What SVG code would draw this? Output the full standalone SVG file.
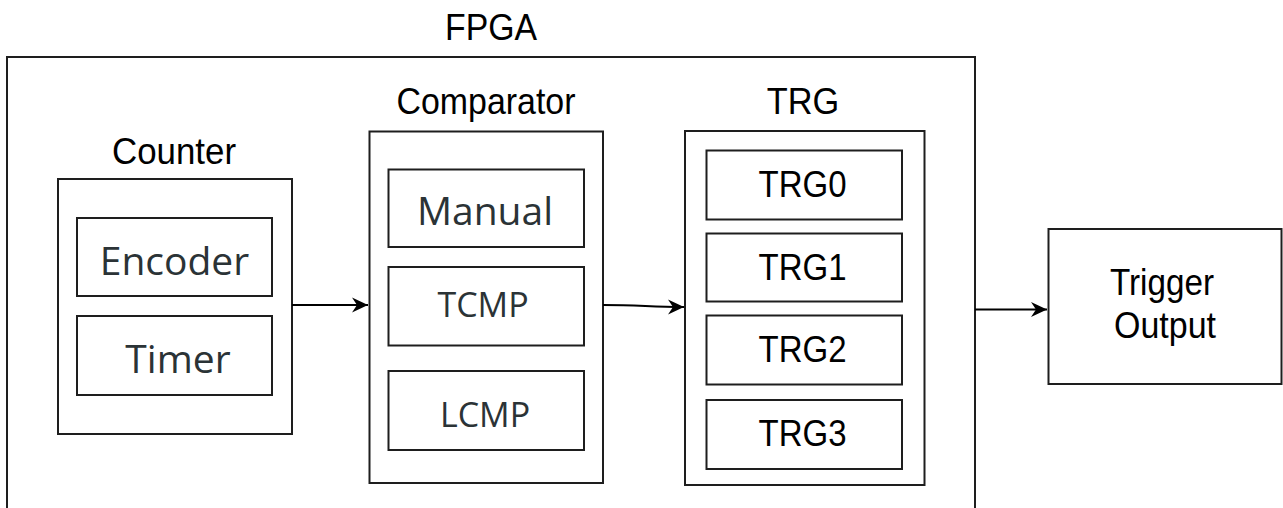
<svg xmlns="http://www.w3.org/2000/svg" width="1283" height="508" viewBox="0 0 1283 508">
<style>
.box{fill:#fff;stroke:#1e1e1e;stroke-width:2}
.lbl{font-family:"Liberation Sans",Arial,sans-serif;font-size:37px;fill:#000;text-anchor:middle}
.in{font-family:"Open Sans","Noto Sans",sans-serif;font-size:39px;fill:#2b3336;text-anchor:middle}
.sm{font-size:34px}
.con{fill:none;stroke:#000;stroke-width:2}
</style>
<defs>
<marker id="arr" markerUnits="userSpaceOnUse" markerWidth="17" markerHeight="16" refX="16" refY="8" orient="auto">
<path d="M0,0.5 L16,8 L0,15.5 L5,8 Z" fill="#000"/>
</marker>
</defs>
<rect width="1283" height="508" fill="#fff"/>
<g id="fpga">
<rect class="box" x="7" y="57" width="968" height="470"/>
<text class="lbl" x="491" y="40" textLength="92" lengthAdjust="spacingAndGlyphs">FPGA</text>
</g>
<g id="counter">
<rect class="box" x="58" y="179" width="234" height="255"/>
<text class="lbl" x="174" y="164" textLength="124" lengthAdjust="spacingAndGlyphs">Counter</text>
</g>
<g id="encoder">
<rect class="box" x="77" y="218" width="195" height="78"/>
<text class="in" x="174.5" y="275">Encoder</text>
</g>
<g id="timer">
<rect class="box" x="77" y="316" width="195" height="79"/>
<text class="in" x="178" y="373">Timer</text>
</g>
<g id="comparator">
<rect class="box" x="369.5" y="131.5" width="233.5" height="351.5"/>
<text class="lbl" x="486" y="114" textLength="179" lengthAdjust="spacingAndGlyphs">Comparator</text>
</g>
<g id="manual">
<rect class="box" x="388.5" y="169.5" width="195.5" height="77.5"/>
<text class="in" x="485" y="225">Manual</text>
</g>
<g id="tcmp">
<rect class="box" x="388.5" y="267" width="195.5" height="78.5"/>
<text class="in sm" x="483" y="317">TCMP</text>
</g>
<g id="lcmp">
<rect class="box" x="388.5" y="371" width="195.5" height="79"/>
<text class="in sm" x="485" y="427">LCMP</text>
</g>
<g id="trg">
<rect class="box" x="685" y="131" width="239.5" height="354"/>
<text class="lbl" x="803" y="114" textLength="72.5" lengthAdjust="spacingAndGlyphs">TRG</text>
</g>
<g id="trg0">
<rect class="box" x="706.5" y="150.5" width="195.5" height="69"/>
<text class="lbl" x="802.5" y="197" textLength="88" lengthAdjust="spacingAndGlyphs">TRG0</text>
</g>
<g id="trg1">
<rect class="box" x="706.5" y="233.5" width="195.5" height="68"/>
<text class="lbl" x="802.5" y="280" textLength="88" lengthAdjust="spacingAndGlyphs">TRG1</text>
</g>
<g id="trg2">
<rect class="box" x="706.5" y="315.5" width="195.5" height="69"/>
<text class="lbl" x="802.5" y="362" textLength="88" lengthAdjust="spacingAndGlyphs">TRG2</text>
</g>
<g id="trg3">
<rect class="box" x="706.5" y="400" width="195.5" height="69"/>
<text class="lbl" x="802.5" y="446" textLength="88" lengthAdjust="spacingAndGlyphs">TRG3</text>
</g>
<g id="trigger-output">
<rect class="box" x="1048.5" y="229" width="233" height="155"/>
<text class="lbl" x="1162" y="295" textLength="104" lengthAdjust="spacingAndGlyphs">Trigger</text>
<text class="lbl" x="1165" y="338" textLength="102" lengthAdjust="spacingAndGlyphs">Output</text>
</g>
<g id="connectors">
<path class="con" d="M292,305 L368,305" marker-end="url(#arr)"/>
<path class="con" d="M603,305 C640,305 650,307 684,307" marker-end="url(#arr)"/>
<path class="con" d="M975,309.5 L1047,309.5" marker-end="url(#arr)"/>
</g>
</svg>
